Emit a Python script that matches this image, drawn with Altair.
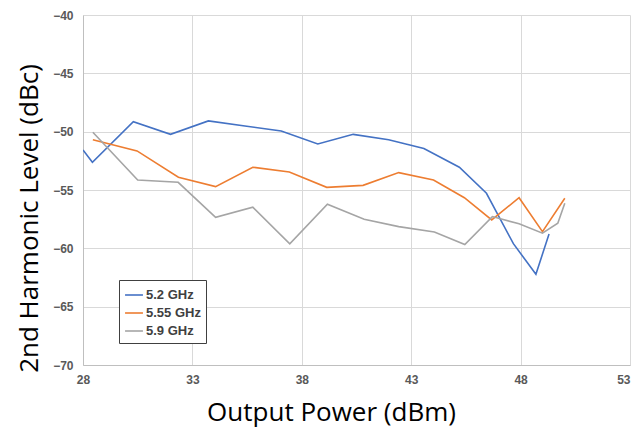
import altair as alt
import pandas as pd

x_52 = [28.0, 28.43, 30.3, 32.0, 33.73, 35.4, 37.06, 38.73, 40.35, 41.97, 43.58, 45.2, 46.44, 47.67, 48.7, 49.3]
y_52 = [-51.57, -52.62, -49.14, -50.23, -49.08, -49.51, -49.94, -51.05, -50.23, -50.69, -51.45, -53.05, -55.28, -59.6, -62.22, -58.77]

x_555 = [28.45, 30.47, 32.36, 34.06, 35.76, 37.43, 39.14, 40.8, 42.43, 44.02, 45.43, 46.68, 47.93, 49.0, 50.02]
y_555 = [-50.69, -51.65, -53.91, -54.71, -53.05, -53.45, -54.77, -54.6, -53.51, -54.14, -55.66, -57.57, -55.66, -58.57, -55.71]

x_59 = [28.45, 30.5, 32.35, 34.06, 35.76, 37.45, 39.17, 40.85, 42.43, 44.06, 45.45, 46.71, 47.93, 49.0, 49.7, 50.02]
y_59 = [-50.05, -54.14, -54.34, -57.34, -56.48, -59.62, -56.22, -57.5, -58.14, -58.6, -59.68, -57.28, -57.9, -58.7, -57.85, -56.14]

series = ["5.2 GHz", "5.55 GHz", "5.9 GHz"]
colors = ["#4472C4", "#ED7D31", "#A5A5A5"]
x_ticks = [28, 33, 38, 43, 48, 53]
y_ticks = [-70, -65, -60, -55, -50, -45, -40]

rows = []
for name, xs, ys in zip(series, [x_52, x_555, x_59], [y_52, y_555, y_59]):
    for i, (xv, yv) in enumerate(zip(xs, ys)):
        rows.append({"series": name, "x": xv, "y": yv, "order": i})
df = pd.DataFrame(rows)

chart = alt.Chart(df).mark_line(strokeWidth=1.6, clip=True).encode(
    x=alt.X("x:Q",
            scale=alt.Scale(domain=[28, 53], nice=False, zero=False),
            axis=alt.Axis(values=x_ticks, title="Output Power (dBm)",
                          titleFontSize=26, titleFont="Open Sans", titleFontWeight="normal",
                          titleColor="#000000", titlePadding=14, titleX=248, titleAlign="center",
                          labelFont="Liberation Sans", labelFontSize=12, labelFontWeight="bold",
                          labelColor="#595959", labelPadding=9, ticks=False,
                          labelAlign={"condition": {"test": "datum.value == 53", "value": "right"},
                                      "value": "center"},
                          domainColor="#BFBFBF", gridColor="#D9D9D9", labelFlush=False)),
    y=alt.Y("y:Q",
            scale=alt.Scale(domain=[-70, -40], nice=False, zero=False),
            axis=alt.Axis(values=y_ticks, title="2nd Harmonic Level (dBc)",
                          titleFontSize=26, titleFont="Open Sans", titleFontWeight="normal",
                          titleColor="#000000", titlePadding=10, titleY=203,
                          labelFont="Liberation Sans", labelFontSize=12, labelFontWeight="bold",
                          labelColor="#595959", labelPadding=10, ticks=False,
                          domainColor="#BFBFBF", gridColor="#D9D9D9")),
    color=alt.Color("series:N",
                    scale=alt.Scale(domain=series, range=colors),
                    legend=alt.Legend(title=None, orient="none", legendX=36, legendY=265,
                                      symbolType="stroke", symbolSize=320, symbolStrokeWidth=1.6,
                                      labelFont="Liberation Sans", labelFontSize=13,
                                      labelFontWeight="bold", labelColor="#404040",
                                      labelOffset=2,
                                      strokeColor="#404040", padding=5, rowPadding=1,
                                      fillColor="#FFFFFF")),
    order="order:Q",
).properties(
    width=547, height=350,
    autosize=alt.AutoSizeParams(type="none"),
    padding={"left": 75, "top": 7, "right": 1, "bottom": 66},
).configure_view(stroke=None)

chart.save("out.html", embed_options={"renderer": "svg", "actions": False})
